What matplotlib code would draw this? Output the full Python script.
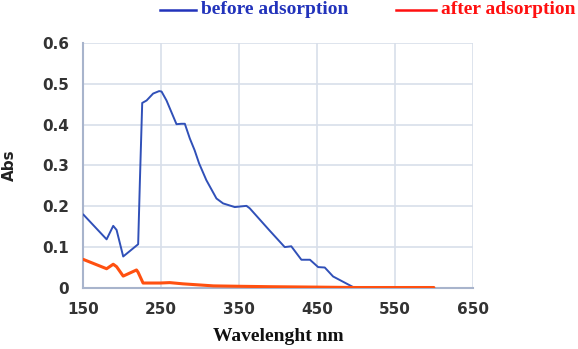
import matplotlib
matplotlib.use("Agg")
import matplotlib.pyplot as plt
from matplotlib.lines import Line2D

# Data
wl_before = [150, 180, 188.5, 192.8, 201.3, 220.5, 222.7, 225.7, 231.3, 239.7, 247.4, 250.5,
             256.9, 269.7, 276, 280.4, 286.8, 293, 298.7, 308, 321, 329.5, 344.5, 359.5,
             363.7, 388.5, 408.6, 417, 430, 441, 451.5, 460, 470.7, 498.5, 600]
abs_before = [0.180, 0.119, 0.152, 0.142, 0.077, 0.107, 0.26, 0.453, 0.459, 0.476, 0.482, 0.481,
              0.459, 0.401, 0.402, 0.402, 0.366, 0.337, 0.305, 0.264, 0.219, 0.207, 0.198, 0.201,
              0.195, 0.142, 0.100, 0.102, 0.069, 0.069, 0.051, 0.050, 0.028, 0.0, 0.0]
wl_after = [150, 180, 188.5, 192.8, 201.3, 218.4, 220.5, 226.8, 248.6, 261, 278, 317, 351,
            390, 449, 500, 600]
abs_after = [0.0699, 0.047, 0.058, 0.052, 0.029, 0.044, 0.038, 0.012, 0.012, 0.013, 0.010,
             0.005, 0.004, 0.003, 0.002, 0.001, 0.001]

x_ticks = [150, 250, 350, 450, 550, 650]
y_ticks = [0, 0.1, 0.2, 0.3, 0.4, 0.5, 0.6]
y_labels = ["0", "0.1", "0.2", "0.3", "0.4", "0.5", "0.6"]

fig = plt.figure(figsize=(5.78, 3.49), dpi=100)
ax = fig.add_axes([0.144, 0.175, 0.674, 0.702])

ax.plot(wl_before, abs_before, color="#3050b8", lw=1.4, zorder=3,
        solid_joinstyle="round", solid_capstyle="round")
ax.plot(wl_after, abs_after, color="#ff5010", lw=2.2, zorder=3,
        solid_joinstyle="round", solid_capstyle="round")

ax.set_xlim(150, 650)
ax.set_ylim(0, 0.6)
ax.set_xticks(x_ticks)
ax.set_yticks(y_ticks)
ax.set_yticklabels(y_labels)
ax.grid(True, color="#d8dfea", lw=1.2)
ax.set_axisbelow(True)
for s in ["top", "right"]:
    ax.spines[s].set_visible(False)
for s in ["left", "bottom"]:
    ax.spines[s].set_color("#a8b4cc")
    ax.spines[s].set_linewidth(1.5)
ax.tick_params(length=0, pad=10, labelsize=11, labelcolor="#333333")
for t in ax.get_xticklabels() + ax.get_yticklabels():
    t.set_fontweight("bold")

ax.set_xlabel("Wavelenght nm", fontsize=14, fontweight="bold", family="Liberation Serif",
              color="#111111", labelpad=8)
ax.set_ylabel("Abs", fontsize=11, fontweight="bold", color="#222222", labelpad=18)

# Legend at top
fig.add_artist(Line2D([160/578, 196/578], [1-10/349, 1-10/349], color="#2233bb", lw=1.8))
fig.text(201/578, 1-10/349, "before adsorption", color="#2233bb", fontsize=14,
         fontweight="bold", family="Liberation Serif", va="center", ha="left")
fig.add_artist(Line2D([396/578, 436/578], [1-10/349, 1-10/349], color="#ff1010", lw=1.8))
fig.text(441/578, 1-10/349, "after adsorption", color="#ff1010", fontsize=14,
         fontweight="bold", family="Liberation Serif", va="center", ha="left")

fig.savefig("out.png", dpi=100)
